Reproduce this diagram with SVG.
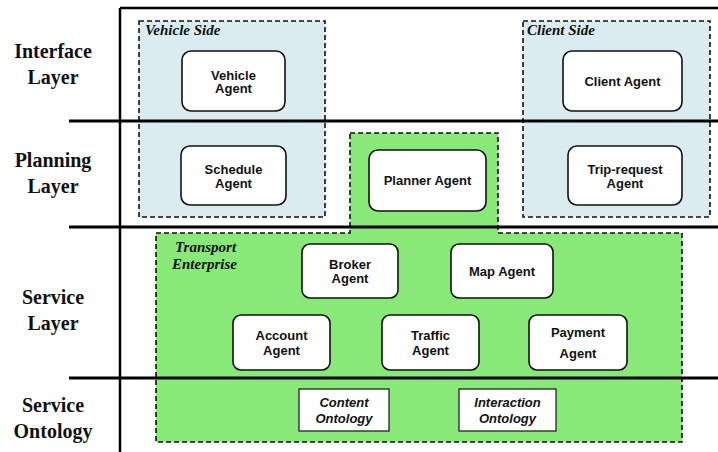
<svg xmlns="http://www.w3.org/2000/svg" width="718" height="452" viewBox="0 0 718 452">
<style>
.layer{font-family:"Liberation Serif","Times New Roman",serif;font-weight:bold;font-size:20px;fill:#111;text-anchor:middle}
.grp{font-family:"Liberation Serif","Times New Roman",serif;font-weight:bold;font-style:italic;font-size:15px;fill:#111}
.lbl{font-family:"Liberation Sans",Arial,sans-serif;font-weight:bold;font-size:13px;fill:#111;text-anchor:middle}
.ont{font-family:"Liberation Sans",Arial,sans-serif;font-weight:bold;font-style:italic;font-size:13px;fill:#111;text-anchor:middle}
.agent{fill:#fff;stroke:#111;stroke-width:1.6}
.onto{fill:#fff;stroke:#222;stroke-width:1.3}
.dash{stroke:#111;stroke-width:1.6;stroke-dasharray:5,3}
.rule{stroke:#000;stroke-width:3}
</style>
<rect width="718" height="452" fill="#fff"/>
<g id="frame">
<line x1="120" y1="8" x2="718" y2="8" stroke="#000" stroke-width="2.5"/>
<line x1="120" y1="8" x2="120" y2="452" stroke="#000" stroke-width="2.5"/>
</g>
<g id="vehicle-side">
<rect x="139" y="21" width="186" height="196" fill="#daecef" class="dash"/>
<text class="grp" x="145" y="35">Vehicle Side</text>
</g>
<g id="client-side">
<rect x="523" y="21" width="187" height="196" fill="#daecef" class="dash"/>
<text class="grp" x="527" y="35">Client Side</text>
</g>
<g id="transport-enterprise">
<path d="M350,133 H498 V233 H682 V442 H156 V233 H350 Z" fill="#88e878" class="dash"/>
<text class="grp" x="175" y="252">Transport</text>
<text class="grp" x="172" y="269">Enterprise</text>
</g>
<g id="connectors">
<line class="rule" x1="69" y1="121" x2="718" y2="121"/>
<line class="rule" x1="69" y1="227" x2="718" y2="227"/>
<line class="rule" x1="69" y1="378" x2="718" y2="378"/>
</g>
<g id="layer-labels">
<text class="layer" x="53" y="58">Interface</text>
<text class="layer" x="53" y="84">Layer</text>
<text class="layer" x="53" y="167">Planning</text>
<text class="layer" x="53" y="193">Layer</text>
<text class="layer" x="53" y="304">Service</text>
<text class="layer" x="53" y="330">Layer</text>
<text class="layer" x="53" y="412">Service</text>
<text class="layer" x="53" y="438">Ontology</text>
</g>
<g id="vehicle-agent">
<rect class="agent" x="182" y="51" width="103" height="60" rx="9"/>
<text class="lbl" x="233.5" y="79.5">Vehicle</text>
<text class="lbl" x="233.5" y="93">Agent</text>
</g>
<g id="schedule-agent">
<rect class="agent" x="181" y="146" width="105" height="59" rx="9"/>
<text class="lbl" x="233.5" y="174">Schedule</text>
<text class="lbl" x="233.5" y="188">Agent</text>
</g>
<g id="client-agent">
<rect class="agent" x="563" y="51" width="119" height="60" rx="9"/>
<text class="lbl" x="622.5" y="86">Client Agent</text>
</g>
<g id="trip-request-agent">
<rect class="agent" x="568" y="146" width="114" height="59" rx="9"/>
<text class="lbl" x="625" y="174">Trip-request</text>
<text class="lbl" x="625" y="188">Agent</text>
</g>
<g id="planner-agent">
<rect class="agent" x="369" y="150" width="117" height="61" rx="9"/>
<text class="lbl" x="427.5" y="185">Planner Agent</text>
</g>
<g id="broker-agent">
<rect class="agent" x="302" y="244" width="96" height="54" rx="8"/>
<text class="lbl" x="350" y="269">Broker</text>
<text class="lbl" x="350" y="283">Agent</text>
</g>
<g id="map-agent">
<rect class="agent" x="451" y="244" width="102" height="54" rx="8"/>
<text class="lbl" x="502" y="276">Map Agent</text>
</g>
<g id="account-agent">
<rect class="agent" x="233" y="315" width="97" height="55" rx="8"/>
<text class="lbl" x="281.5" y="340">Account</text>
<text class="lbl" x="281.5" y="355">Agent</text>
</g>
<g id="traffic-agent">
<rect class="agent" x="382" y="315" width="97" height="55" rx="8"/>
<text class="lbl" x="430.5" y="340">Traffic</text>
<text class="lbl" x="430.5" y="355">Agent</text>
</g>
<g id="payment-agent">
<rect class="agent" x="529" y="315" width="98" height="55" rx="8"/>
<text class="lbl" x="578" y="337">Payment</text>
<text class="lbl" x="578" y="358">Agent</text>
</g>
<g id="content-ontology">
<rect class="onto" x="299" y="389" width="90" height="42"/>
<text class="ont" x="344" y="407">Content</text>
<text class="ont" x="344" y="423">Ontology</text>
</g>
<g id="interaction-ontology">
<rect class="onto" x="459" y="389" width="97" height="42"/>
<text class="ont" x="507.5" y="407">Interaction</text>
<text class="ont" x="507.5" y="423">Ontology</text>
</g>
</svg>
